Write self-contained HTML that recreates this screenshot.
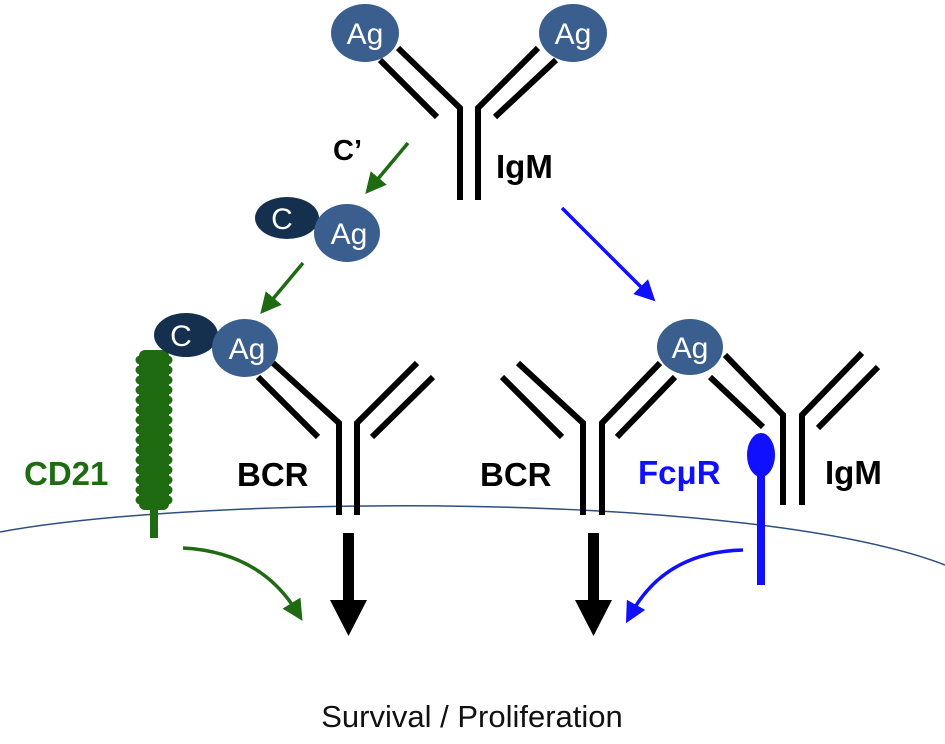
<!DOCTYPE html>
<html><head><meta charset="utf-8"><style>
html,body{margin:0;padding:0;background:#fff;width:945px;height:744px;overflow:hidden}
svg{display:block}
text{font-family:"Liberation Sans",Arial,sans-serif}
</style></head><body>
<svg width="945" height="744" viewBox="0 0 945 744" xmlns="http://www.w3.org/2000/svg">
<defs>
<marker id="ag" markerWidth="6" markerHeight="6" refX="3" refY="3" orient="auto" markerUnits="strokeWidth"><path d="M0,0 L6,3 L0,6 Z" fill="#1e6b12"/></marker>
<marker id="ab" markerWidth="6" markerHeight="6" refX="3" refY="3" orient="auto" markerUnits="strokeWidth"><path d="M0,0 L6,3 L0,6 Z" fill="#1010ff"/></marker>
</defs>
<path d="M0 532 C200 495, 750 490, 945 565" fill="none" stroke="#2d4f80" stroke-width="1.5"/>

<g stroke="#000" stroke-width="6" fill="none" stroke-linecap="butt">
<polyline points="398,48 460,108 460,200"/>
<line x1="380" y1="60" x2="437" y2="117"/>
<polyline points="538,48 478,108 478,200"/>
<line x1="556" y1="60" x2="495" y2="117"/>
<polyline points="273,363 339,423 339,515"/>
<line x1="258" y1="377" x2="318" y2="437"/>
<polyline points="417,363 357,423 357,515"/>
<line x1="433" y1="377" x2="372" y2="437"/>
<polyline points="518,363 583,423 583,515"/>
<line x1="502" y1="377" x2="562" y2="437"/>
<polyline points="660,363 602,423 602,515"/>
<line x1="675" y1="377" x2="617" y2="437"/>
<polyline points="725,355 783,415 783,505"/>
<line x1="710" y1="377" x2="763" y2="427"/>
<polyline points="862,353 802,415 802,505"/>
<line x1="878" y1="367" x2="818" y2="428"/>
</g>

<g fill="#3a5f8f">
<ellipse cx="365" cy="33" rx="34" ry="29"/>
<ellipse cx="573" cy="33" rx="34" ry="29"/>
</g>
<rect x="150" y="505" width="8" height="33" fill="#1e6b12"/>
<rect x="139" y="350" width="30" height="160" rx="6" fill="#1e6b12"/>
<g fill="#1e6b12">
<circle cx="140" cy="360" r="4.5"/><circle cx="168" cy="360" r="4.5"/>
<circle cx="140" cy="370" r="4.5"/><circle cx="168" cy="370" r="4.5"/>
<circle cx="140" cy="380" r="4.5"/><circle cx="168" cy="380" r="4.5"/>
<circle cx="140" cy="390" r="4.5"/><circle cx="168" cy="390" r="4.5"/>
<circle cx="140" cy="400" r="4.5"/><circle cx="168" cy="400" r="4.5"/>
<circle cx="140" cy="410" r="4.5"/><circle cx="168" cy="410" r="4.5"/>
<circle cx="140" cy="420" r="4.5"/><circle cx="168" cy="420" r="4.5"/>
<circle cx="140" cy="430" r="4.5"/><circle cx="168" cy="430" r="4.5"/>
<circle cx="140" cy="440" r="4.5"/><circle cx="168" cy="440" r="4.5"/>
<circle cx="140" cy="450" r="4.5"/><circle cx="168" cy="450" r="4.5"/>
<circle cx="140" cy="460" r="4.5"/><circle cx="168" cy="460" r="4.5"/>
<circle cx="140" cy="470" r="4.5"/><circle cx="168" cy="470" r="4.5"/>
<circle cx="140" cy="480" r="4.5"/><circle cx="168" cy="480" r="4.5"/>
<circle cx="140" cy="490" r="4.5"/><circle cx="168" cy="490" r="4.5"/>
<circle cx="140" cy="500" r="4.5"/><circle cx="168" cy="500" r="4.5"/>
</g>

<ellipse cx="287" cy="218" rx="32" ry="21" fill="#15304f"/>
<ellipse cx="347" cy="233" rx="33" ry="29" fill="#3a5f8f"/>
<ellipse cx="186" cy="335" rx="32" ry="22" fill="#15304f"/>
<ellipse cx="245" cy="348" rx="33" ry="29" fill="#3a5f8f"/>
<ellipse cx="690" cy="347" rx="33" ry="28" fill="#3a5f8f"/>

<g fill="#fff" font-size="30" text-anchor="middle">
<text x="365" y="44">Ag</text>
<text x="573" y="44">Ag</text>
<text x="282" y="229">C</text>
<text x="349" y="244">Ag</text>
<text x="181" y="346">C</text>
<text x="247" y="359">Ag</text>
<text x="690" y="358">Ag</text>
</g>

<ellipse cx="761" cy="455" rx="14" ry="22" fill="#1010ff"/>
<rect x="757" y="470" width="8" height="115" fill="#1010ff"/>

<line x1="408" y1="143" x2="372" y2="186" stroke="#1e6b12" stroke-width="3.5" marker-end="url(#ag)"/>
<line x1="303" y1="263" x2="267" y2="306" stroke="#1e6b12" stroke-width="3.5" marker-end="url(#ag)"/>
<line x1="562" y1="208" x2="648" y2="294" stroke="#1010ff" stroke-width="3.5" marker-end="url(#ab)"/>
<path d="M183 548 Q260 552 297 612" fill="none" stroke="#1e6b12" stroke-width="3.5" marker-end="url(#ag)"/>
<path d="M743 550 Q665 552 631 614" fill="none" stroke="#1010ff" stroke-width="3.5" marker-end="url(#ab)"/>
<rect x="343" y="533" width="11" height="68" fill="#000"/>
<path d="M330 600 L367 600 L348.5 636 Z" fill="#000"/>
<rect x="588" y="533" width="11" height="68" fill="#000"/>
<path d="M575 600 L612 600 L593.5 636 Z" fill="#000"/>

<g font-weight="bold" font-size="33">
<text x="333" y="160" fill="#000" font-size="29">C’</text>
<text x="496" y="178" fill="#000">IgM</text>
<text x="24" y="485" fill="#1e6b12">CD21</text>
<text x="237" y="486" fill="#000">BCR</text>
<text x="480" y="486" fill="#000">BCR</text>
<text x="638" y="484" fill="#1010ff">FcμR</text>
<text x="825" y="484" fill="#000">IgM</text>
</g>
<text x="472" y="727" text-anchor="middle" font-size="31" fill="#111">Survival / Proliferation</text>
</svg>
</body></html>
